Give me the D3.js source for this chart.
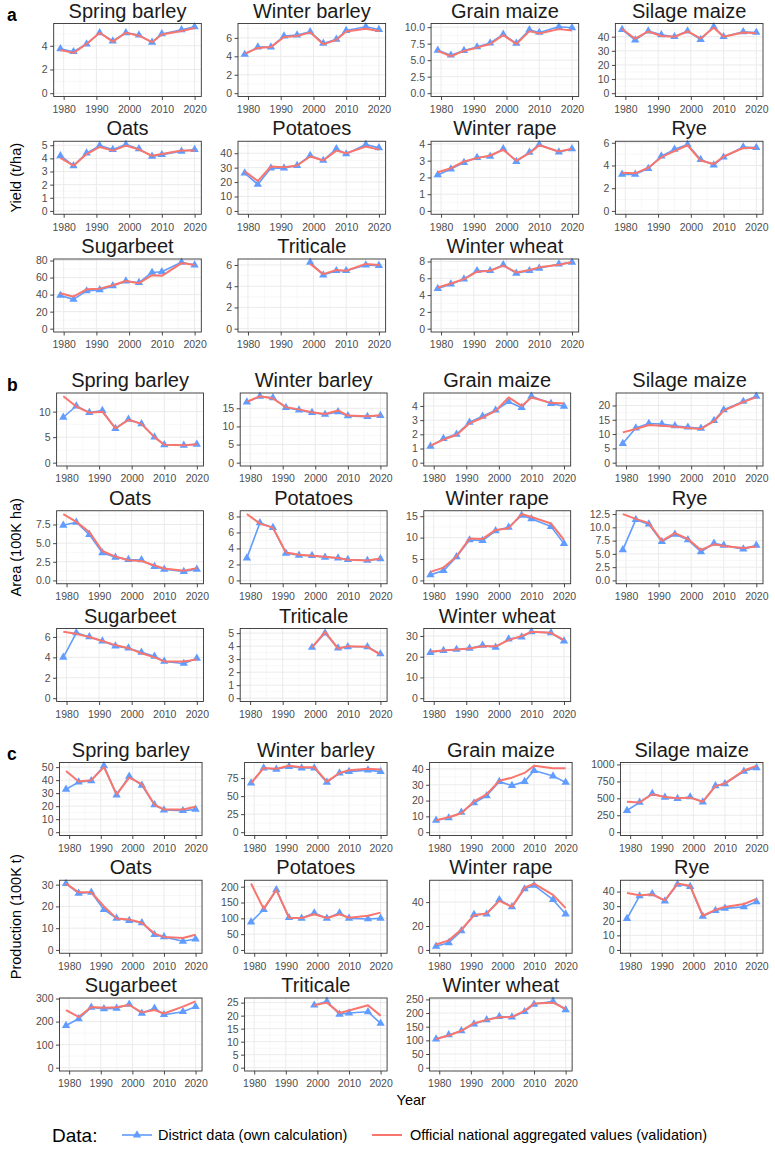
<!DOCTYPE html>
<html>
<head>
<meta charset="utf-8">
<script src="https://cdn.jsdelivr.net/npm/d3@7"></script>
<style>
body { margin: 0; background: #fff; }
svg text { font-family: "Liberation Sans", Arial, Helvetica, sans-serif; }
.grid-major { stroke: #ebebeb; stroke-width: 1; }
.grid-minor { stroke: #f3f3f3; stroke-width: 0.6; }
.axis path.domain { display: none; }
.axis line { stroke: #333; stroke-width: 0.9; }
.axis text { fill: #4d4d4d; }
</style>
</head>
<body>
<script>
var n = null;
var years = [1979, 1983, 1987, 1991, 1995, 1999, 2003, 2007, 2010, 2016, 2020];
var xTicks = [1980, 1990, 2000, 2010, 2020];
var crops = ["Spring barley", "Winter barley", "Grain maize", "Silage maize", "Oats", "Potatoes",
    "Winter rape", "Rye", "Sugarbeet", "Triticale", "Winter wheat"];
var sectionLabels = ["a", "b", "c"];
var sectionTitles = ["Yield (t/ha)", "Area (100K ha)", "Production (100K t)"];
var seriesNames = ["District data (own calculation)", "Official national aggregated values (validation)"];

// yield, t/ha
var yieldDistrict = [
    [3.75, 3.5, 4.15, 5.1, 4.4, 5.1, 4.9, 4.3, 5.0, 5.35, 5.6],
    [4.2, 5.0, 5.0, 6.2, 6.3, 6.65, 5.4, 5.85, 6.8, 7.2, 6.9],
    [6.5, 5.75, 6.45, 7.0, 7.6, 8.9, 7.55, 9.6, 9.2, 10.05, 9.9],
    [45, 37.6, 44, 41.3, 40, 44, 38, 47, 40, 43.5, 43],
    [4.2, 3.44, 4.4, 4.97, 4.67, 5.05, 4.72, 4.15, 4.28, 4.54, 4.67],
    [26.2, 18.4, 29.7, 29.7, 31.5, 38.4, 35, 43, 39.5, 46, 43.7],
    [2.15, 2.5, 2.89, 3.19, 3.25, 3.7, 2.95, 3.5, 3.96, 3.51, 3.71],
    [3.22, 3.22, 3.73, 4.82, 5.42, 5.84, 4.52, 4.04, 4.73, 5.63, 5.57],
    [39, 34.4, 44.3, 45.5, 50.2, 56, 54, 66, 66.8, 77.9, 74.7],
    [n, n, n, n, n, 6.25, 5.05, 5.46, 5.46, 6.0, 5.94],
    [4.78, 5.3, 5.9, 6.9, 6.9, 7.59, 6.59, 6.9, 7.19, 7.7, 7.9]
];
var yieldOfficial = [
    [3.65, 3.4, 4.15, 5.1, 4.35, 5.1, 4.85, 4.3, 4.95, 5.25, 5.5],
    [4.3, 4.9, 5.0, 6.1, 6.2, 6.6, 5.3, 5.8, 6.7, 7.0, 6.75],
    [6.4, 5.6, 6.4, 6.9, 7.45, 8.8, 7.45, 9.4, 9.05, 9.7, 9.5],
    [45.5, 38.6, 43.7, 40.5, 40, 43.7, 38.8, 46.5, 40, 43, 42.5],
    [4.03, 3.44, 4.33, 4.87, 4.59, 4.97, 4.67, 4.2, 4.33, 4.6, 4.59],
    [27.4, 20.7, 30.8, 30.3, 31.5, 37.7, 35, 41.8, 40, 44.6, 42.5],
    [2.31, 2.55, 2.95, 3.15, 3.31, 3.65, 3.0, 3.45, 3.92, 3.55, 3.71],
    [3.37, 3.31, 3.8, 4.73, 5.27, 5.78, 4.43, 4.13, 4.79, 5.54, 5.54],
    [41.5, 37.5, 46.2, 47, 51, 56, 53.4, 62.8, 62, 77, 74.7],
    [n, n, n, n, n, 6.1, 5.14, 5.52, 5.46, 6.1, 6.0],
    [4.9, 5.38, 5.9, 6.79, 6.9, 7.5, 6.7, 6.99, 7.3, 7.6, 7.9]
];
var yieldTicks = [[0, 2, 4], [0, 2, 4, 6], [0, 2.5, 5, 7.5, 10], [0, 10, 20, 30, 40], [0, 1, 2, 3, 4, 5],
    [0, 10, 20, 30, 40], [0, 1, 2, 3, 4], [0, 2, 4, 6], [0, 20, 40, 60, 80], [0, 2, 4, 6], [0, 2, 4, 6, 8]];

// area, 100K ha
var areaDistrict = [
    [8.9, 11.1, 9.8, 10.2, 6.7, 8.5, 7.6, 5.0, 3.5, 3.4, 3.6],
    [16.7, 18.3, 17.9, 15.2, 14.5, 13.8, 13.3, 14.0, 12.9, 12.7, 13.0],
    [1.15, 1.7, 2.0, 2.85, 3.27, 3.7, 4.3, 3.88, 4.68, 4.17, 3.98],
    [6.7, 12.1, 13.7, 13.5, 12.9, 12.4, 12.0, 14.7, 18.5, 21.4, 23.2],
    [7.4, 7.8, 6.15, 3.7, 3.1, 2.8, 2.75, 1.85, 1.5, 1.2, 1.5],
    [2.8, 7.2, 6.6, 3.4, 3.15, 3.1, 2.9, 2.8, 2.6, 2.5, 2.7],
    [1.3, 2.3, 5.5, 9.45, 9.3, 11.6, 12.4, 15.2, 14.4, 12.6, 8.6],
    [5.75, 11.45, 10.6, 7.3, 8.7, 7.65, 5.4, 7.0, 6.6, 5.9, 6.6],
    [4.0, 6.4, 6.0, 5.6, 5.1, 4.9, 4.5, 4.1, 3.6, 3.4, 3.9],
    [n, n, n, n, n, 3.9, 5.0, 3.85, 3.95, 3.95, 3.4],
    [22, 23, 23.5, 24, 25.5, 24.5, 28.5, 29.5, 32, 31.5, 27.5]
];
var areaOfficial = [
    [13.0, 11.0, 9.8, 10.0, 6.7, 8.4, 7.6, 5.0, 3.5, 3.4, 3.6],
    [16.8, 18.3, 17.7, 15.3, 14.7, 13.9, 13.4, 14.4, 13.0, 12.8, 13.1],
    [1.2, 1.63, 1.95, 2.78, 3.17, 3.65, 4.6, 4.0, 4.6, 4.22, 4.17],
    [10.6, 11.8, 13.2, 12.9, 12.6, 12.1, 11.8, 14.5, 18.2, 21.2, 22.9],
    [8.9, 7.85, 6.5, 3.95, 3.2, 2.7, 2.6, 2.0, 1.6, 1.3, 1.65],
    [8.3, 7.1, 6.6, 3.5, 3.2, 3.1, 2.95, 2.8, 2.6, 2.5, 2.75],
    [2.0, 3.0, 5.6, 9.8, 9.7, 11.8, 12.2, 15.5, 14.8, 13.3, 9.5],
    [12.5, 11.6, 10.8, 7.45, 8.9, 7.8, 5.75, 6.8, 6.5, 6.1, 6.4],
    [6.5, 6.3, 6.0, 5.6, 5.2, 4.9, 4.4, 4.0, 3.6, 3.6, 3.8],
    [n, n, n, n, n, 3.9, 5.1, 3.8, 4.0, 3.95, 3.35],
    [22.5, 23, 23.5, 24, 25, 25, 28, 30, 32, 31.5, 28]
];
var areaTicks = [[0, 5, 10], [0, 5, 10, 15], [0, 1, 2, 3, 4], [0, 5, 10, 15, 20], [0, 2.5, 5, 7.5],
    [0, 2, 4, 6, 8], [0, 5, 10, 15], [0, 2.5, 5, 7.5, 10, 12.5], [0, 2, 4, 6], [0, 1, 2, 3, 4, 5], [0, 10, 20, 30]];

// production, 100K t
var prodDistrict = [
    [33, 38.5, 39.5, 51, 28.5, 43, 36, 21, 17, 16.5, 17.5],
    [68, 89, 87, 91, 89, 89, 69, 82, 84, 86, 84],
    [7.5, 9, 12.5, 18.5, 23, 32, 29.5, 32, 39, 35.5, 31.5],
    [320, 440, 570, 515, 495, 520, 445, 685, 715, 900, 950],
    [30.5, 26, 26.5, 18.5, 14.5, 13.5, 12.5, 7, 6, 4, 5],
    [88, 128, 190, 102, 100, 117, 100, 117, 100, 98, 100],
    [3, 6, 16, 29.5, 30, 42, 36, 51, 54, 42, 30],
    [21.5, 37, 38.5, 33.5, 45, 43.5, 23, 27, 28.5, 29.5, 33],
    [183, 212, 262, 255, 258, 275, 236, 258, 230, 243, 265],
    [n, n, n, n, n, 24, 25.5, 20.5, 21, 21.5, 17],
    [105, 120, 135, 160, 175, 187, 185, 205, 232, 243, 212]
];
var prodOfficial = [
    [47, 39, 40, 50, 29, 42, 37, 21, 17.5, 17.5, 19.5],
    [68, 89, 88, 92, 90, 90, 70, 82, 86, 88, 87],
    [7.5, 9.5, 12, 19.5, 24, 32.5, 34.5, 37.5, 42, 40.5, 40.5],
    [450, 440, 560, 520, 500, 510, 450, 680, 720, 910, 980],
    [30.5, 26.5, 26.5, 20, 14.5, 14, 12.5, 7.5, 6, 5.5, 7],
    [210, 130, 190, 102, 101, 113, 101, 113, 102, 108, 118],
    [4.5, 8, 17, 29, 30.5, 41, 36, 52, 55.5, 46, 35],
    [39, 37.5, 38, 34, 45.5, 44, 23.5, 27.5, 29.5, 31.5, 35],
    [250, 220, 263, 260, 262, 272, 240, 250, 235, 265, 288],
    [n, n, n, n, n, 24, 25, 21, 22, 24, 20],
    [105, 118, 135, 163, 175, 185, 186, 208, 235, 238, 215]
];
var prodTicks = [[0, 10, 20, 30, 40, 50], [0, 25, 50, 75], [0, 10, 20, 30, 40], [0, 250, 500, 750, 1000],
    [0, 10, 20, 30], [0, 50, 100, 150, 200], [0, 20, 40], [0, 10, 20, 30, 40], [0, 100, 200, 300],
    [0, 5, 10, 15, 20, 25], [0, 50, 100, 150, 200, 250]];

var sections = [
    { district: yieldDistrict, official: yieldOfficial, ticks: yieldTicks },
    { district: areaDistrict, official: areaOfficial, ticks: areaTicks },
    { district: prodDistrict, official: prodOfficial, ticks: prodTicks }
];

var colors = { district: "#619CFF", official: "#F8766D" };

var chart = {
    w: 775,
    h: 1150,
    titleArea: 36,
    rightPad: 12,
    spacing: 19,
    panelH: 73,
    rowStep: 117.75,
    sectionTop: [17.5, 387, 756.5], // baseline of the first strip title
    stripGap: 6,
    tickLen: 3.5,
    tickPad: 2.5,
    tickSize: 10.5,
    svg: undefined,
    measure: undefined,
    xDomain: [years[0] - 0.05 * (years[years.length - 1] - years[0]),
              years[years.length - 1] + 0.05 * (years[years.length - 1] - years[0])],

    fmt: function(ticks) {
        var dec = ticks.some(function(t) { return t % 1 !== 0; });
        return function(t) { return dec ? t.toFixed(1) : String(t); };
    },
    textW: function(s) {
        this.measure.text(s);
        return this.measure.node().getComputedTextLength();
    },

    plot: function() {
        var self = this;
        this.svg = d3.select("body").append("svg")
            .attr("width", this.w)
            .attr("height", this.h);
        this.svg.append("rect").attr("width", this.w).attr("height", this.h).attr("fill", "#fff");
        this.measure = this.svg.append("text")
            .attr("font-size", this.tickSize)
            .attr("visibility", "hidden");

        var yearCenter = 0;
        sections.forEach(function(sec, s) {
            // widest tick label per column, like ggplot's free-y facets
            var axisW = [0, 0, 0, 0];
            sec.ticks.forEach(function(t, i) {
                var f = self.fmt(t);
                var mx = d3.max(t, function(v) { return self.textW(f(v)); });
                axisW[i % 4] = Math.max(axisW[i % 4], mx + self.tickLen + self.tickPad);
            });
            var pw = (self.w - self.rightPad - self.titleArea - d3.sum(axisW) - 3 * self.spacing) / 4;
            var lefts = [], acc = self.titleArea;
            for (var c = 0; c < 4; c++) {
                acc += axisW[c];
                lefts.push(acc);
                acc += pw + self.spacing;
            }

            var top0 = self.sectionTop[s];
            crops.forEach(function(name, i) {
                var row = Math.floor(i / 4), col = i % 4;
                var g = self.svg.append("g")
                    .attr("transform", "translate(" + lefts[col] + "," + (top0 + row * self.rowStep + self.stripGap) + ")");
                self.panel(g, name, sec.district[i], sec.official[i], sec.ticks[i], pw);
            });

            self.svg.append("text")
                .attr("x", 7)
                .attr("y", top0 + 3.5)
                .attr("font-size", 17.5)
                .attr("font-weight", "bold")
                .text(sectionLabels[s]);

            var cy = top0 + self.stripGap + (2 * self.rowStep + self.panelH) / 2;
            self.svg.append("text")
                .attr("transform", "translate(16," + cy + ") rotate(-90)")
                .attr("text-anchor", "middle")
                .attr("dominant-baseline", "central")
                .attr("font-size", 14.5)
                .text(sectionTitles[s]);

            yearCenter = (lefts[0] + lefts[3] + pw) / 2;
        });

        this.svg.append("text")
            .attr("x", yearCenter)
            .attr("y", 1105)
            .attr("text-anchor", "middle")
            .attr("font-size", 14.5)
            .text("Year");

        this.legend();
    },

    panel: function(g, name, vD, vO, ticks, pw) {
        var self = this, ph = this.panelH;
        var x = d3.scaleLinear().domain(this.xDomain).range([0, pw]);
        var all = vD.concat(vO).filter(function(v) { return v != null; });
        var lo = Math.min(0, d3.min(all)), hi = d3.max(all), pad = (hi - lo) * 0.05;
        var y = d3.scaleLinear().domain([lo - pad, hi + pad]).range([ph, 0]);

        g.append("rect").attr("width", pw).attr("height", ph).attr("fill", "#fff");

        // minor grid at the midpoints
        var ystep = ticks[1] - ticks[0], yMinor = [];
        for (var v = ticks[0] - ystep / 2; v <= y.domain()[1]; v += ystep) {
            if (v >= y.domain()[0]) yMinor.push(v);
        }
        var xMinor = [1975, 1985, 1995, 2005, 2015, 2025].filter(function(d) {
            return d >= self.xDomain[0] && d <= self.xDomain[1];
        });
        g.selectAll(".ymin").data(yMinor).enter().append("line")
            .attr("class", "grid-minor")
            .attr("x1", 0).attr("x2", pw)
            .attr("y1", function(d) { return y(d); }).attr("y2", function(d) { return y(d); });
        g.selectAll(".xmin").data(xMinor).enter().append("line")
            .attr("class", "grid-minor")
            .attr("y1", 0).attr("y2", ph)
            .attr("x1", function(d) { return x(d); }).attr("x2", function(d) { return x(d); });
        g.selectAll(".ymaj").data(ticks).enter().append("line")
            .attr("class", "grid-major")
            .attr("x1", 0).attr("x2", pw)
            .attr("y1", function(d) { return y(d); }).attr("y2", function(d) { return y(d); });
        g.selectAll(".xmaj").data(xTicks).enter().append("line")
            .attr("class", "grid-major")
            .attr("y1", 0).attr("y2", ph)
            .attr("x1", function(d) { return x(d); }).attr("x2", function(d) { return x(d); });

        var ptsD = years.map(function(yr, k) { return { yr: yr, v: vD[k] }; }).filter(function(d) { return d.v != null; });
        var ptsO = years.map(function(yr, k) { return { yr: yr, v: vO[k] }; }).filter(function(d) { return d.v != null; });
        var line = d3.line()
            .x(function(d) { return x(d.yr); })
            .y(function(d) { return y(d.v); });

        g.append("path").datum(ptsD)
            .attr("d", line)
            .attr("fill", "none")
            .attr("stroke", colors.district)
            .attr("stroke-width", 1.6)
            .attr("stroke-linejoin", "round");
        g.selectAll(".tri").data(ptsD).enter().append("path")
            .attr("d", d3.symbol(d3.symbolTriangle, 30))
            .attr("transform", function(d) { return "translate(" + x(d.yr) + "," + y(d.v) + ")"; })
            .attr("fill", colors.district);
        g.append("path").datum(ptsO)
            .attr("d", line)
            .attr("fill", "none")
            .attr("stroke", colors.official)
            .attr("stroke-width", 2)
            .attr("stroke-linejoin", "round");

        g.append("rect")
            .attr("width", pw).attr("height", ph)
            .attr("fill", "none")
            .attr("stroke", "#333")
            .attr("stroke-width", 0.9);

        var yAxis = d3.axisLeft(y).tickValues(ticks).tickFormat(this.fmt(ticks))
            .tickSize(this.tickLen).tickPadding(this.tickPad);
        var ya = g.append("g").attr("class", "axis").call(yAxis);
        var xAxis = d3.axisBottom(x).tickValues(xTicks).tickFormat(d3.format("d"))
            .tickSize(this.tickLen).tickPadding(5.5);
        var xa = g.append("g").attr("class", "axis")
            .attr("transform", "translate(0," + ph + ")")
            .call(xAxis);
        [ya, xa].forEach(function(a) {
            a.attr("font-family", null).attr("font-size", null);
            a.selectAll("text").attr("font-size", self.tickSize);
        });

        g.append("text")
            .attr("x", pw / 2)
            .attr("y", -this.stripGap)
            .attr("text-anchor", "middle")
            .attr("font-size", 20)
            .attr("fill", "#1a1a1a")
            .text(name);
    },

    legend: function() {
        var cy = 1135;
        var lg = this.svg.append("g");
        lg.append("text")
            .attr("x", 52).attr("y", cy)
            .attr("dominant-baseline", "central")
            .attr("font-size", 19)
            .text("Data:");
        lg.append("line")
            .attr("x1", 122).attr("x2", 152).attr("y1", cy).attr("y2", cy)
            .attr("stroke", colors.district).attr("stroke-width", 1.6);
        lg.append("path")
            .attr("d", d3.symbol(d3.symbolTriangle, 30))
            .attr("transform", "translate(137," + cy + ")")
            .attr("fill", colors.district);
        lg.append("text")
            .attr("x", 158).attr("y", cy)
            .attr("dominant-baseline", "central")
            .attr("font-size", 14.5)
            .text(seriesNames[0]);
        lg.append("line")
            .attr("x1", 372).attr("x2", 402).attr("y1", cy).attr("y2", cy)
            .attr("stroke", colors.official).attr("stroke-width", 2);
        lg.append("text")
            .attr("x", 410).attr("y", cy)
            .attr("dominant-baseline", "central")
            .attr("font-size", 14.5)
            .text(seriesNames[1]);
    }
};

chart.plot();
</script>
</body>
</html>
